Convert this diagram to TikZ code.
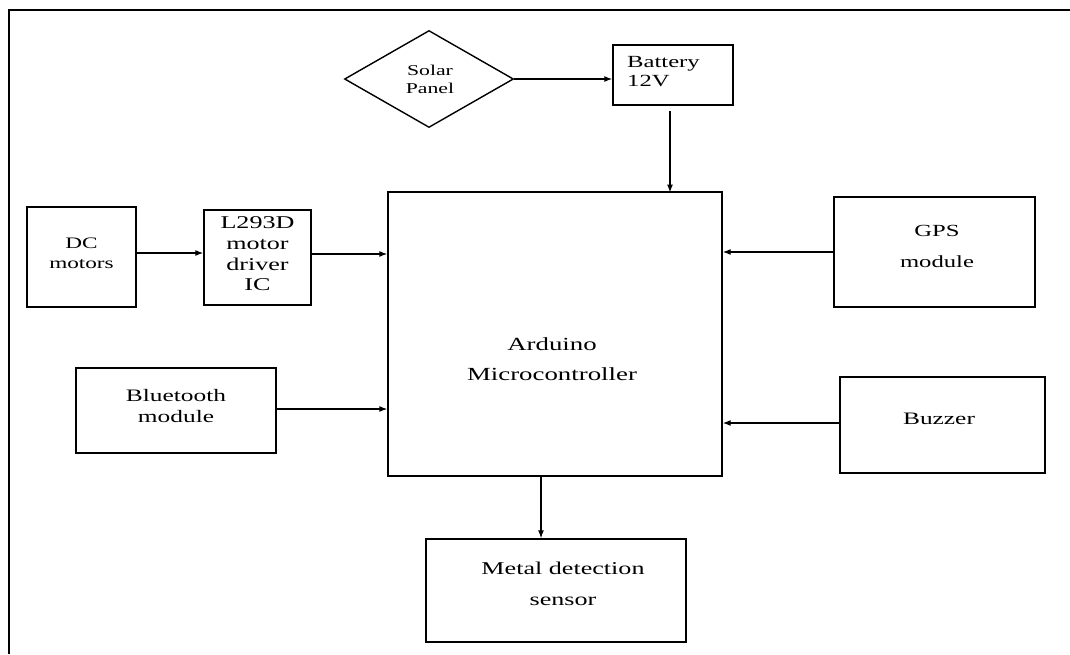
\documentclass[tikz,border=0pt]{standalone}
\usepackage{graphicx}
\usepackage{fontspec}
\setmainfont{Liberation Serif}
\usetikzlibrary{shapes.geometric,arrows.meta}
\newcommand{\fsz}[2]{\fontsize{#1}{#2}\selectfont}
\newcommand{\sx}[1]{\scalebox{1.45}[1]{#1}}
\begin{document}
\begin{tikzpicture}[x=1pt,y=-1pt,
  blk/.style={draw,line width=1.4pt,inner sep=0,minimum width=#1},
  txt/.style={inner sep=0,font=\fsz{17.5}{21}},
  arr/.style={line width=1.2pt,-{Latex[length=8pt,width=6pt]}}]
\useasboundingbox (0,0) rectangle (1070,654);
% frame
\draw[line width=2.6pt] (9,654) -- (9,10) -- (1070,10);
% blocks
\node[draw,line width=1.4pt,diamond,aspect=1.74,minimum width=169pt,minimum height=97pt,inner sep=0] (solar) at (429,79) {};
\node[blk=120pt,minimum height=60pt] (bat) at (673,75) {};
\node[blk=334pt,minimum height=284pt] (ard) at (555,334) {};
\node[blk=109pt,minimum height=100pt] (dc) at (81.5,257) {};
\node[blk=107pt,minimum height=95pt] (drv) at (257.5,257.5) {};
\node[blk=200pt,minimum height=85pt] (bt) at (176,410.5) {};
\node[blk=201pt,minimum height=110pt] (gps) at (934.5,252) {};
\node[blk=205pt,minimum height=96pt] (buz) at (942.5,425) {};
\node[blk=260pt,minimum height=103pt] (met) at (556,590.5) {};
% texts
\node[txt,font=\fsz{15}{18},align=center] (tsolar) at (430,79) {\sx{Solar}\\\sx{Panel}};
\node[txt,font=\fsz{17}{19},align=left,anchor=north west] (tbat) at (627,56) {\sx{Battery}\\\sx{12V}};
\node[txt,font=\fsz{18.5}{21}] (tard1) at (552,344) {\sx{Arduino}};
\node[txt,font=\fsz{18.5}{21}] (tard2) at (552,374) {\sx{Microcontroller}};
\node[txt,font=\fsz{16}{20},align=center] (tdc) at (81.5,253) {\sx{DC}\\\sx{motors}};
\node[txt,font=\fsz{18}{20.7},align=center] (tdrv) at (257.5,254) {\sx{L293D}\\\sx{motor}\\\sx{driver}\\\sx{IC}};
\node[txt,font=\fsz{17.5}{21},align=center] (tbt) at (176,406) {\sx{Bluetooth}\\\sx{module}};
\node[txt,font=\fsz{17}{21}] (tgps1) at (937,231) {\sx{GPS}};
\node[txt,font=\fsz{17}{21}] (tgps2) at (937,262) {\sx{module}};
\node[txt] (tbuz) at (939,419) {\sx{Buzzer}};
\node[txt,font=\fsz{18}{21}] (tmet1) at (563,568) {\sx{Metal detection}};
\node[txt,font=\fsz{18}{21}] (tmet2) at (563,601) {\sx{sensor}};
% connectors
\draw[arr] (solar.east) -- (bat.west |- solar.east);
\draw[arr] (670,111) -- (670,192.5);
\draw[arr] (dc.east |- 0,253) -- (drv.west |- 0,253);
\draw[arr] (drv.east |- 0,254) -- (ard.west |- 0,254);
\draw[arr] (bt.east |- 0,409) -- (ard.west |- 0,409);
\draw[arr] (gps.west |- 0,252) -- (ard.east |- 0,252);
\draw[arr] (buz.west |- 0,423) -- (ard.east |- 0,423);
\draw[arr] (ard.south -| 541,0) -- (met.north -| 541,0);
\end{tikzpicture}
\end{document}
